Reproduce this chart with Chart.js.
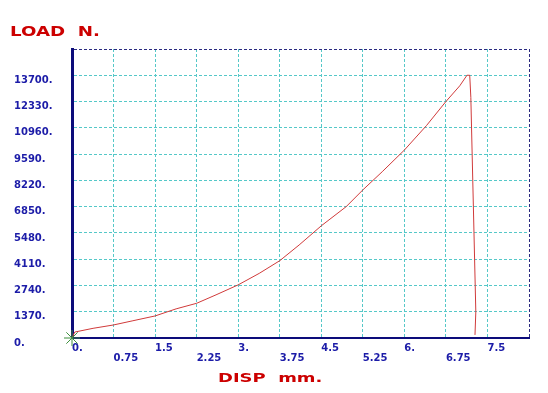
<!DOCTYPE html>
<html>
<head>
<meta charset="utf-8">
<script src="https://cdn.jsdelivr.net/npm/chart.js@4.4.1/dist/chart.umd.min.js"></script>
<style>
  html, body { margin: 0; padding: 0; background: #fff; }
  #chart { display: block; }
</style>
</head>
<body>
<canvas id="chart" width="548" height="393"></canvas>
<script>
// ── Load / displacement record ──
const dispMM = [0, 0.05, 0.38, 0.75, 1.1, 1.5, 1.88, 2.25, 2.6, 3.0, 3.38, 3.75, 4.1, 4.5,
  4.95, 5.25, 5.6, 6.0, 6.4, 6.75, 7.0, 7.13, 7.18, 7.2, 7.29, 7.275];
const loadN = [0, 310, 505, 680, 900, 1150, 1520, 1810, 2250, 2770, 3370, 4030, 4850, 5850,
  6850, 7720, 8670, 9800, 11080, 12330, 13150, 13700, 13700, 12550, 1360, 160];

// ── Axis ticks ──
const xTicks = [0, 0.75, 1.5, 2.25, 3, 3.75, 4.5, 5.25, 6, 6.75, 7.5, 8.25];
const xTickLabels = ['0.', '0.75', '1.5', '2.25', '3.', '3.75', '4.5', '5.25', '6.', '6.75', '7.5', ''];
const yTicks = [0, 1370, 2740, 4110, 5480, 6850, 8220, 9590, 10960, 12330, 13700, 15070];
const yTickLabels = ['0.', '1370.', '2740.', '4110.', '5480.', '6850.', '8220.', '9590.',
  '10960.', '12330.', '13700.', ''];

const GRID = '#55c8c8';
const FRAME = '#2a2a80';
const AXIS = '#0c0c7a';
const TICK_BLUE = '#1c1ca8';
const TITLE_RED = '#cc0000';

const tickFont = { family: "'DejaVu Sans', sans-serif", weight: 'bold', size: 10, lineHeight: 1 };

// ── Red titles, drawn stretched like the original plotter font ──
const axisTitles = {
  id: 'axisTitles',
  afterDraw(chart) {
    const ctx = chart.ctx;
    ctx.save();
    ctx.fillStyle = TITLE_RED;
    ctx.textBaseline = 'alphabetic';
    ctx.textAlign = 'left';

    ctx.save();
    ctx.font = "bold 14px 'DejaVu Sans'";
    ctx.translate(10, 36);
    ctx.scale(1.3, 1);
    ctx.fillText('LOAD  N.', 0, 0);
    ctx.restore();

    ctx.save();
    ctx.font = "bold 13px 'DejaVu Sans'";
    ctx.translate(218, 382);
    ctx.scale(1.38, 1);
    ctx.fillText('DISP  mm.', 0, 0);
    ctx.restore();

    ctx.restore();
  }
};

const points = dispMM.map((x, i) => ({ x: x, y: loadN[i] }));

new Chart(document.getElementById('chart'), {
  type: 'scatter',
  data: {
    datasets: [{
      data: points,
      showLine: true,
      clip: false,
      borderColor: '#d03a3a',
      borderWidth: 1,
      tension: 0,
      pointStyle: 'star',
      pointRadius: c => (c.dataIndex === 0 ? 8 : 0),
      pointBorderColor: '#3d8f3d',
      pointBorderWidth: 1,
      pointHoverRadius: 0,
    }],
  },
  options: {
    responsive: false,
    animation: false,
    events: [],
    layout: { padding: { left: 14, right: 19, top: 49, bottom: 0 } },
    plugins: { legend: { display: false }, tooltip: { enabled: false } },
    scales: {
      x: {
        type: 'linear',
        min: 0,
        max: 8.25,
        afterBuildTicks: s => { s.ticks = xTicks.map(v => ({ value: v })); },
        afterFit: s => { s.height = 55; },
        grid: {
          color: c => (c.index === xTicks.length - 1 ? FRAME : GRID),
          lineWidth: 1,
          drawTicks: false,
        },
        border: { color: AXIS, width: 2, dash: [3, 2] },
        ticks: {
          align: 'start',
          padding: 5,
          autoSkip: false,
          maxRotation: 0,
          minRotation: 0,
          color: TICK_BLUE,
          font: tickFont,
          callback: (v, i) => (i % 2 === 0 ? [xTickLabels[i], ''] : ['', xTickLabels[i]]),
        },
      },
      y: {
        type: 'linear',
        min: 0,
        max: 15070,
        afterBuildTicks: s => { s.ticks = yTicks.map(v => ({ value: v })); },
        afterFit: s => { s.width = 58; },
        grid: {
          color: c => (c.index === yTicks.length - 1 ? FRAME : GRID),
          lineWidth: 1,
          drawTicks: false,
        },
        border: { color: AXIS, width: 3, dash: [3, 2] },
        ticks: {
          crossAlign: 'far',
          padding: 0,
          labelOffset: 5,
          autoSkip: false,
          color: TICK_BLUE,
          font: tickFont,
          callback: (v, i) => yTickLabels[i],
        },
      },
    },
  },
  plugins: [axisTitles],
});
</script>
</body>
</html>
